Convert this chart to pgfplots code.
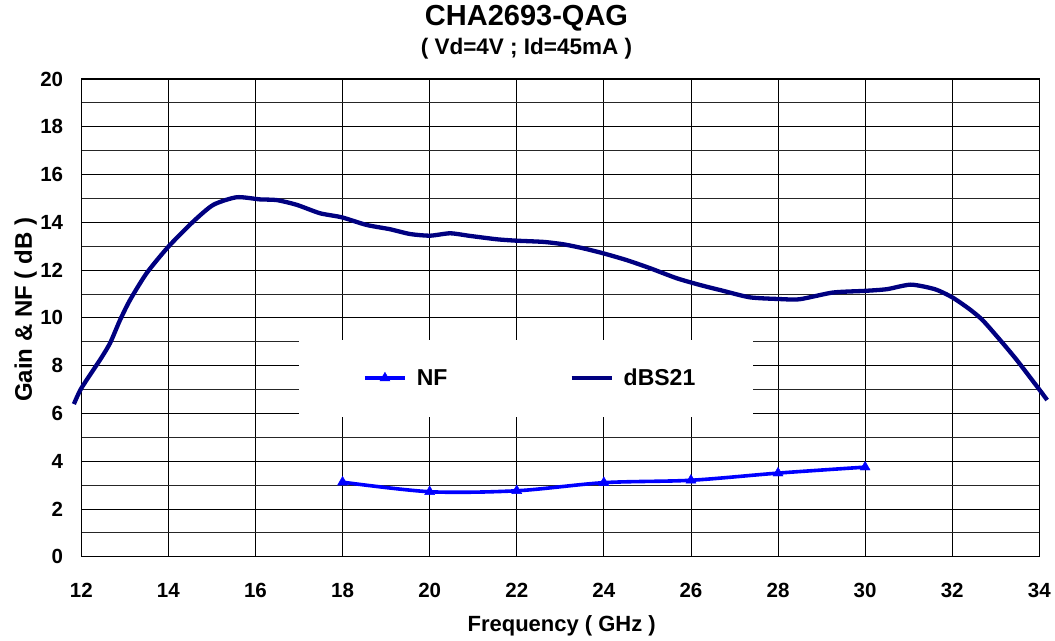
\documentclass[border=0pt]{standalone}
\usepackage{fontspec}
\setmainfont{Liberation Sans}
\usepackage{pgfplots}
\pgfplotsset{compat=1.18}
\definecolor{navyline}{RGB}{0,0,128}
\definecolor{nfblue}{RGB}{0,0,255}
\begin{document}
\begin{tikzpicture}
\begin{axis}[
  scale only axis, width=958pt, height=477.7pt,
  xmin=12, xmax=34, ymin=0, ymax=20,
  xtick={12,14,...,34}, ytick={0,2,...,20}, minor ytick={1,3,...,19},
  grid=both,
  major grid style={black, line width=0.8pt},
  minor grid style={black!85, line width=0.8pt},
  major tick length=0pt, minor tick length=0pt,
  axis line style={black, line width=1.3pt},
  tick label style={font=\fontsize{20.5}{22}\selectfont\bfseries},
  /pgf/number format/assume math mode=true,
  xticklabel style={anchor=base, yshift=-40.6pt, inner sep=0pt},
  yticklabel style={anchor=east, xshift=-18pt, inner sep=0pt},
  clip=false,
  legend columns=2,
  legend style={at={(0.294,0.374)}, anchor=west, draw=none, fill=none,
    inner sep=0pt, font=\fontsize{23}{25}\selectfont\bfseries,
    /tikz/every odd column/.append style={column sep=8pt},
    /tikz/every even column/.append style={column sep=120pt}},
  legend image code/.code={\draw[#1, mark repeat=2, mark phase=2] plot coordinates {(0pt,0pt) (20pt,0pt) (40pt,0pt)};},
]
\fill[white] (axis cs:17,5.85) rectangle (axis cs:27.42,9.07);
\addplot[nfblue, line width=3.6pt, smooth, tension=0.5, mark=triangle*, mark size=5.8pt,
  mark options={solid, fill=nfblue, draw=nfblue, line width=0.4pt}]
  coordinates {(18,3.12) (20,2.72) (22,2.76) (24,3.10) (26,3.20) (28,3.50) (30,3.75)};
\addlegendentry{NF}
\addplot[navyline, line width=4.3pt, smooth, tension=0.4, no markers]
  coordinates {
  (11.83,6.39) (12.0,7.05) (12.43,8.24) (12.66,8.94) (12.89,9.91) (13.12,10.75)
  (13.5,11.87) (14.0,12.98) (14.57,14.03) (15.03,14.73) (15.57,15.05) (16.1,14.96)
  (16.49,14.93) (16.95,14.73) (17.48,14.38) (17.98,14.21) (18.55,13.89) (19.09,13.71)
  (19.55,13.51) (20.01,13.44) (20.47,13.54) (20.93,13.43) (21.54,13.29) (22.0,13.23)
  (22.61,13.18) (23.07,13.08) (23.53,12.91) (23.99,12.70) (24.52,12.42) (25.06,12.08)
  (25.67,11.66) (26.2,11.38) (26.7,11.15) (27.35,10.86) (28.0,10.79) (28.5,10.78)
  (29.26,11.06) (30.0,11.13) (30.5,11.2) (31.05,11.39) (31.6,11.2) (32.0,10.86)
  (32.4,10.36) (32.7,9.9) (33.1,9.07) (33.48,8.24) (34.0,7.0) (34.18,6.56)};
\addlegendentry{dBS21}
\end{axis}
\node[anchor=base, font=\fontsize{29}{31}\selectfont\bfseries] at ([shift={(445.2pt,53pt)}]current axis.north west) {CHA2693-QAG};
\node[anchor=base, font=\fontsize{22.5}{24}\selectfont\bfseries] at ([shift={(445.2pt,24pt)}]current axis.north west) {( Vd=4V ; Id=45mA )};
\node[anchor=base, font=\fontsize{22}{24}\selectfont\bfseries] at ([shift={(480.4pt,-75pt)}]current axis.south west) {Frequency ( GHz )};
\node[anchor=base, rotate=90, font=\fontsize{24}{26}\selectfont\bfseries] at ([shift={(-49.3pt,246.7pt)}]current axis.south west) {Gain \& NF ( dB )};
\pgfresetboundingbox
\path ([shift={(-81.3pt,-83.3pt)}]current axis.south west) rectangle ([shift={(15.7pt,79pt)}]current axis.north east);
\end{tikzpicture}
\end{document}
